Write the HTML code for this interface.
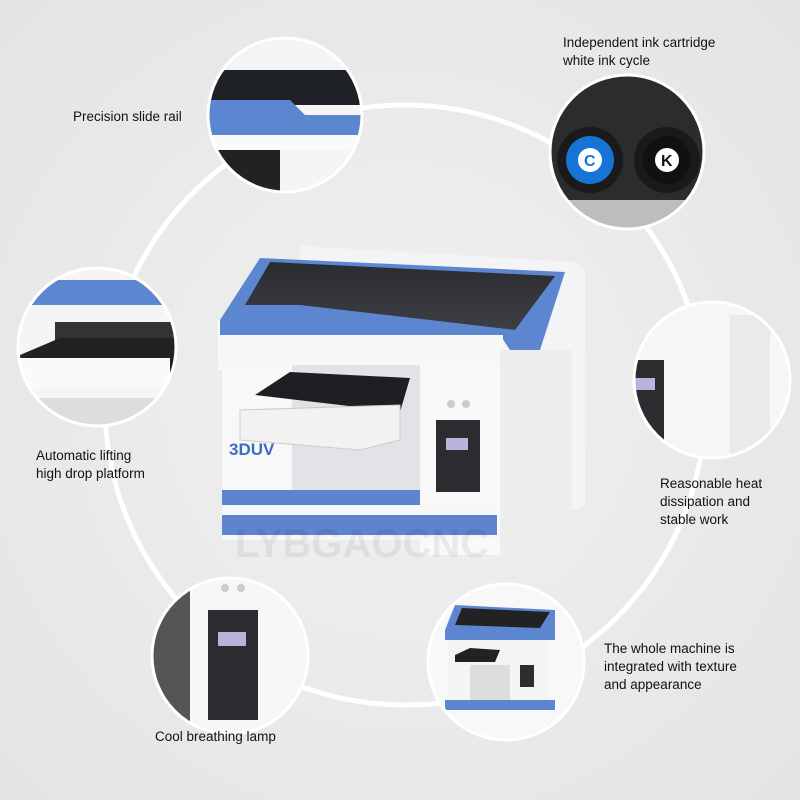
<!DOCTYPE html>
<html><head><meta charset="utf-8"><style>
html,body{margin:0;padding:0;background:#ececec;}
svg{display:block}
text{font-family:"Liberation Sans","DejaVu Sans",sans-serif;font-size:13.5px;fill:#111;}
</style></head><body>
<svg width="800" height="800" viewBox="0 0 800 800" xmlns="http://www.w3.org/2000/svg">
<defs>
<radialGradient id="bg" cx="50%" cy="50%" r="70%"><stop offset="0" stop-color="#f1f1f1"/><stop offset="1" stop-color="#e4e4e4"/></radialGradient>
<linearGradient id="glass" x1="0" y1="0" x2="0" y2="1"><stop offset="0" stop-color="#2a2c30"/><stop offset="1" stop-color="#3c3e44"/></linearGradient>
<clipPath id="c1"><circle cx="285" cy="115" r="76"/></clipPath>
<clipPath id="c2"><circle cx="627" cy="152" r="76"/></clipPath>
<clipPath id="c3"><circle cx="97" cy="347" r="78"/></clipPath>
<clipPath id="c4"><circle cx="712" cy="380" r="77"/></clipPath>
<clipPath id="c5"><circle cx="230" cy="656" r="77"/></clipPath>
<clipPath id="c6"><circle cx="506" cy="662" r="77"/></clipPath>
</defs>
<rect width="800" height="800" fill="url(#bg)"/>
<circle cx="405" cy="405" r="300" fill="none" stroke="#fff" stroke-width="5"/>

<g>
<polygon points="300,246 575,262 585,268 585,505 575,510 300,505" fill="#f4f4f6"/>
<rect x="218" y="320" width="285" height="50" fill="#fafafa"/>
<polygon points="220,320 260,258 565,272 540,350 510,350 500,335 220,335" fill="#5d86d0"/>
<polygon points="245,305 270,262 555,276 515,330 430,320 300,305" fill="url(#glass)"/>
<rect x="218" y="335" width="285" height="30" fill="#f7f7f7"/>
<rect x="222" y="365" width="200" height="170" fill="#f8f8f8"/>
<rect x="292" y="365" width="130" height="132" fill="#e2e3e6"/>
<rect x="420" y="365" width="80" height="190" fill="#f9f9f9"/>
<rect x="500" y="350" width="72" height="160" fill="#eeeef0"/>
<polygon points="255,395 290,372 410,378 400,412" fill="#1e1f22"/>
<polygon points="240,410 400,405 400,440 360,450 240,440" fill="#f2f2f2" stroke="#ccc" stroke-width="1"/>
<rect x="222" y="490" width="198" height="15" fill="#5c84cf"/>
<rect x="222" y="505" width="275" height="35" fill="#f7f7f7"/>
<rect x="222" y="515" width="275" height="20" fill="#5c84cf"/>
<rect x="436" y="420" width="44" height="72" fill="#2a2c30"/>
<rect x="446" y="438" width="22" height="12" fill="#b9b4dc"/>
<circle cx="451" cy="404" r="4" fill="#ccc"/><circle cx="466" cy="404" r="4" fill="#ccc"/>
<text x="229" y="455" style="font-size:17px;font-weight:bold;fill:#3a6cc0">3DUV</text>
<text x="235" y="557" style="font-size:40px;font-weight:bold;fill:#000;opacity:0.06">LYBGAOCNC</text>
</g>

<g clip-path="url(#c1)">
<rect x="200" y="35" width="170" height="160" fill="#f5f5f5"/>
<rect x="200" y="70" width="170" height="35" fill="#1e2125"/>
<polygon points="200,100 290,100 305,115 370,115 370,135 200,135" fill="#5d86d0"/>
<rect x="200" y="135" width="170" height="15" fill="#fafafa"/>
<rect x="200" y="150" width="80" height="45" fill="#222"/>
</g>
<circle cx="285" cy="115" r="77" fill="none" stroke="#fff" stroke-width="3"/>

<g clip-path="url(#c2)">
<rect x="545" y="75" width="165" height="160" fill="#2a2c2e"/>
<circle cx="590" cy="160" r="33" fill="#1a1a1a"/>
<circle cx="590" cy="160" r="24" fill="#1574d6"/>
<circle cx="590" cy="160" r="12" fill="#fff"/>
<text x="584" y="166" style="font-size:16px;font-weight:bold;fill:#1574d6">C</text>
<circle cx="667" cy="160" r="33" fill="#1a1a1a"/>
<circle cx="667" cy="160" r="24" fill="#111"/>
<circle cx="667" cy="160" r="12" fill="#fff"/>
<text x="661" y="166" style="font-size:16px;font-weight:bold;fill:#111">K</text>
<rect x="545" y="200" width="165" height="40" fill="#bdbdbd"/>
</g>
<circle cx="627" cy="152" r="77" fill="none" stroke="#fff" stroke-width="3"/>

<g clip-path="url(#c3)">
<rect x="15" y="265" width="170" height="170" fill="#f5f5f5"/>
<rect x="15" y="280" width="170" height="25" fill="#5d86d0"/>
<rect x="55" y="322" width="120" height="25" fill="#333"/>
<polygon points="20,355 60,338 175,338 175,375 20,375" fill="#222"/>
<rect x="20" y="358" width="150" height="30" fill="#fafafa"/>
<rect x="15" y="398" width="170" height="40" fill="#ddd"/>
</g>
<circle cx="97" cy="347" r="79" fill="none" stroke="#fff" stroke-width="3"/>

<g clip-path="url(#c4)">
<rect x="630" y="300" width="165" height="160" fill="#f6f6f6"/>
<rect x="628" y="360" width="36" height="80" fill="#2a2c30"/>
<rect x="635" y="378" width="20" height="12" fill="#b9b4dc"/>
<rect x="730" y="315" width="40" height="140" fill="#eaeaea"/>
</g>
<circle cx="712" cy="380" r="78" fill="none" stroke="#fff" stroke-width="3"/>

<g clip-path="url(#c5)">
<rect x="150" y="575" width="165" height="165" fill="#f6f6f6"/>
<rect x="150" y="575" width="40" height="165" fill="#555"/>
<rect x="190" y="580" width="125" height="160" fill="#f7f7f7"/>
<rect x="208" y="610" width="50" height="110" fill="#2a2c30"/>
<rect x="218" y="632" width="28" height="14" fill="#b9b4dc"/>
<circle cx="225" cy="588" r="4" fill="#ccc"/><circle cx="241" cy="588" r="4" fill="#ccc"/>
</g>
<circle cx="230" cy="656" r="78" fill="none" stroke="#fff" stroke-width="3"/>

<g clip-path="url(#c6)">
<rect x="425" y="580" width="165" height="165" fill="#f8f8f8"/>
<polygon points="445,630 455,605 555,610 555,640 445,640" fill="#5d86d0"/>
<polygon points="455,625 462,608 550,612 540,628" fill="#222"/>
<rect x="448" y="640" width="100" height="60" fill="#f4f4f4"/>
<polygon points="455,655 470,648 500,650 495,662 455,662" fill="#222"/>
<rect x="470" y="665" width="40" height="35" fill="#ddd"/>
<rect x="520" y="665" width="14" height="22" fill="#2a2c30"/>
<rect x="445" y="700" width="110" height="10" fill="#5d86d0"/>
</g>
<circle cx="506" cy="662" r="78" fill="none" stroke="#fff" stroke-width="3"/>

<text x="73" y="121">Precision slide rail</text>
<text x="563" y="47">Independent ink cartridge</text>
<text x="563" y="65">white ink cycle</text>
<text x="36" y="460">Automatic lifting</text>
<text x="36" y="478">high drop platform</text>
<text x="660" y="488">Reasonable heat</text>
<text x="660" y="506">dissipation and</text>
<text x="660" y="524">stable work</text>
<text x="604" y="653">The whole machine is</text>
<text x="604" y="671">integrated with texture</text>
<text x="604" y="689">and appearance</text>
<text x="155" y="741">Cool breathing lamp</text>
</svg>
</body></html>
